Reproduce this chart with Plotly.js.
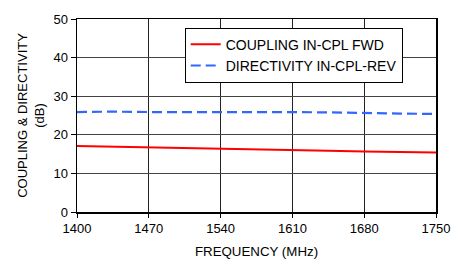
<!DOCTYPE html>
<html><head><meta charset="utf-8">
<script src="https://cdn.plot.ly/plotly-3.0.1.min.js"></script>
<style>html,body{margin:0;padding:0;background:#fff}#c{width:463px;height:259px}</style>
</head><body><div id="c"></div>
<script>
const freq = [1400, 1435, 1470, 1505, 1540, 1575, 1610, 1645, 1680, 1715, 1750];
const coupling = [17.1, 16.9, 16.7, 16.5, 16.3, 16.15, 16.0, 15.85, 15.7, 15.55, 15.4];
const directivity = [25.9, 26.0, 25.9, 25.9, 26.0, 26.0, 25.9, 25.8, 25.6, 25.5, 25.4];
const xTicks = [1400, 1470, 1540, 1610, 1680, 1750];
const yTicks = [0, 10, 20, 30, 40, 50];
const names = ['COUPLING IN-CPL FWD', 'DIRECTIVITY IN-CPL-REV'];

const font = {family: 'Liberation Sans, Arial, sans-serif', color: '#000'};
Plotly.newPlot('c', [
  {x: freq, y: coupling, name: names[0], mode: 'lines', line: {color: '#ff0000', width: 2}},
  {x: freq, y: directivity, name: names[1], mode: 'lines', line: {color: '#3366ff', width: 2.2, dash: '10px,5px'}}
], {
  width: 463, height: 259,
  margin: {l: 77, r: 27, t: 19, b: 47},
  paper_bgcolor: '#fff', plot_bgcolor: '#fff',
  font: Object.assign({size: 12}, font),
  showlegend: true,
  legend: {x: 0.3, y: 0.955, xanchor: 'left', yanchor: 'top', bgcolor: '#fff', bordercolor: '#000', borderwidth: 1,
    font: Object.assign({size: 14}, font), tracegroupgap: 0, itemwidth: 30},
  xaxis: {range: [1400, 1750], tickvals: xTicks, ticktext: xTicks.map(String), showgrid: true, gridcolor: '#222', gridwidth: 1,
    zeroline: false, showline: true, linecolor: '#000', linewidth: 1.5, mirror: true, ticks: 'outside', ticklen: 4, tickcolor: '#000',
    tickfont: Object.assign({size: 13}, font),
    title: {text: 'FREQUENCY (MHz)', font: Object.assign({size: 13.3}, font), standoff: 12}},
  yaxis: {range: [0, 50], tickvals: yTicks, ticktext: yTicks.map(String), showgrid: true, gridcolor: '#444', gridwidth: 1,
    zeroline: false, showline: true, linecolor: '#000', linewidth: 1.5, mirror: true, ticks: 'outside', ticklen: 5, tickcolor: '#000',
    tickfont: Object.assign({size: 13}, font),
    title: {text: 'COUPLING & DIRECTIVITY<br>(dB)', font: Object.assign({size: 13}, font), standoff: 6}}
}, {staticPlot: true, displayModeBar: false});
</script></body></html>
